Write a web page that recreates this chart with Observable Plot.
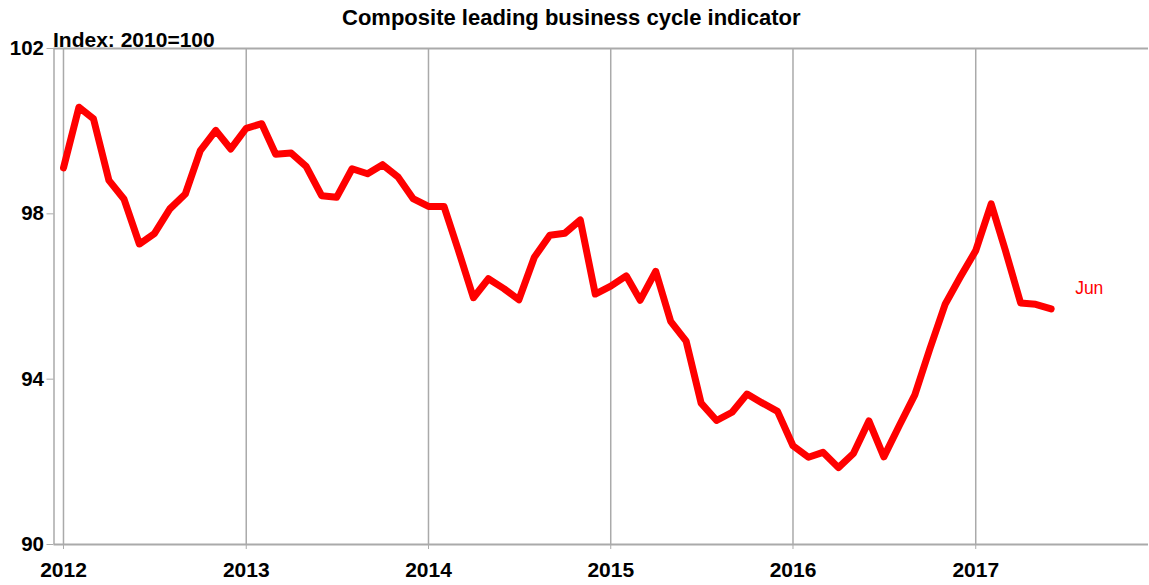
<!DOCTYPE html>
<html>
<head>
<meta charset="utf-8">
<script src="https://cdn.jsdelivr.net/npm/d3@7"></script>
<script src="https://cdn.jsdelivr.net/npm/@observablehq/plot@0.6"></script>
<style>
  html, body { margin: 0; padding: 0; background: #fff; }
  #chart svg { display: block; }
</style>
</head>
<body>
<div id="chart"></div>
<script>
const title = "Composite leading business cycle indicator";
const unitLabel = "Index: 2010=100";
const startMonth = "2012-01";
const values = [
  99.11, 100.58, 100.30, 98.81, 98.36, 97.27, 97.52, 98.12, 98.48, 99.53, 100.02, 99.57,
  100.07, 100.18, 99.44, 99.47, 99.15, 98.44, 98.40, 99.09, 98.97, 99.19, 98.89, 98.37,
  98.18, 98.18, 97.15, 95.97, 96.43, 96.19, 95.92, 96.95, 97.48, 97.53, 97.85, 96.06,
  96.25, 96.50, 95.91, 96.61, 95.40, 94.92, 93.42, 93.00, 93.20, 93.64, 93.42, 93.22,
  92.39, 92.11, 92.23, 91.86, 92.20, 92.99, 92.12, 92.88, 93.62, 94.73, 95.82, 96.47,
  97.11, 98.24, 97.13, 95.84, 95.81, 95.70
];
const yTicks = [90, 94, 98, 102];
const yearTicks = [2012, 2013, 2014, 2015, 2016, 2017];
const xDomain = ["2011-12-13", "2017-12-13"];
const endLabel = "Jun";

const start = new Date(startMonth + "-01T00:00:00Z");
const data = values.map((v, i) => ({
  date: new Date(Date.UTC(start.getUTCFullYear(), start.getUTCMonth() + i, 1)),
  value: v
}));
const years = yearTicks.map(y => new Date(Date.UTC(y, 0, 1)));
const domain = xDomain.map(d => new Date(d + "T00:00:00Z"));
const last = data[data.length - 1];

const gridColor = "#aaaaaa";
const font = "'Liberation Sans', Arial, sans-serif";

const chart = Plot.plot({
  width: 1149,
  height: 585,
  marginLeft: 53.5,
  marginRight: 1,
  marginTop: 48,
  marginBottom: 41,
  style: { fontFamily: font, background: "#fff" },
  x: { type: "utc", domain: domain },
  y: { domain: [90, 102] },
  marks: [
    Plot.ruleX(years, { stroke: gridColor, strokeWidth: 1.5 }),
    Plot.ruleX([domain[0]], { stroke: gridColor, strokeWidth: 1.5 }),
    Plot.ruleY([90, 102], { stroke: gridColor, strokeWidth: 2 }),
    Plot.axisY({
      ticks: yTicks,
      tickSize: 7,
      tickPadding: 3,
      stroke: gridColor,
      fill: "#000",
      fontSize: 20.5,
      fontWeight: "bold",
      label: null,
      tickFormat: d => String(d)
    }),
    Plot.axisX({
      ticks: years,
      tickSize: 5,
      tickPadding: 13,
      stroke: gridColor,
      fill: "#000",
      fontSize: 21,
      fontWeight: "bold",
      label: null,
      tickFormat: d => String(d.getUTCFullYear())
    }),
    Plot.line(data, {
      x: "date", y: "value",
      stroke: "#ff0000", strokeWidth: 7,
      strokeLinejoin: "round", strokeLinecap: "round"
    }),
    Plot.text([last], {
      x: "date", y: "value", text: () => endLabel,
      fill: "#ff0000", fontSize: 17.5, textAnchor: "start",
      dx: 24, dy: -21
    }),
    Plot.text([title], {
      frameAnchor: "top", text: d => d, lineAnchor: "bottom",
      dx: -30, dy: -24, fontSize: 22, fontWeight: "bold", fill: "#000"
    }),
    Plot.text([unitLabel], {
      frameAnchor: "top-left", text: d => d, lineAnchor: "bottom", textAnchor: "start",
      dx: -1, dy: -2, fontSize: 21, fontWeight: "bold", fill: "#000"
    })
  ]
});
document.getElementById("chart").appendChild(chart);
</script>
</body>
</html>
